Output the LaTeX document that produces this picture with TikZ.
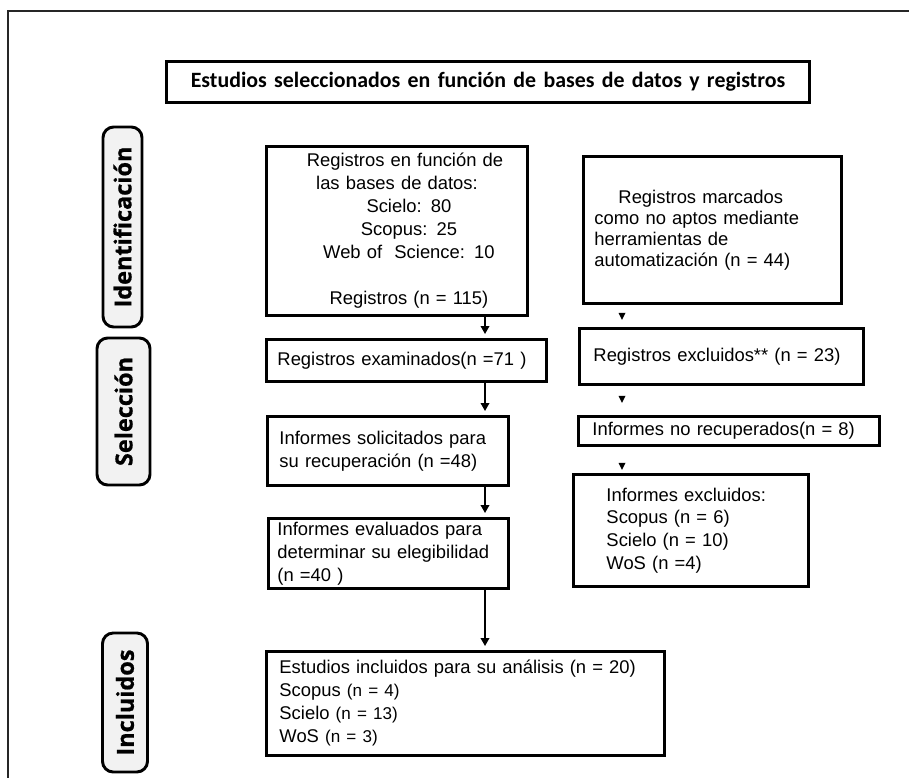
\documentclass[tikz,border=0pt]{standalone}
\usepackage{fontspec}
\setmainfont{Liberation Sans}
\newfontfamily\titulofont{Carlito}
\newfontfamily\etiquetafont{Open Sans}[BoldFeatures={FakeBold=0.8}]
\usetikzlibrary{shapes, arrows.meta}
\definecolor{grisclaro}{HTML}{F2F2F2}

\begin{document}
\begin{tikzpicture}[x=0.75pt, y=-0.75pt, semithick,
        font=\fontsize{13.8pt}{17.25pt}\selectfont,
        flecha/.style={-{Triangle[width=6.5pt,length=6pt]}, line width=1.1pt, shorten >=3pt}]
        \tikzstyle{caja}=[draw=black, line width=2.2pt, anchor=north west, align=left, inner ysep=0pt, text=black]
        \tikzstyle{fase}=[draw=black, line width=2.2pt, fill=grisclaro, rounded corners=8pt, rotate=90, inner sep=0pt, font=\etiquetafont\bfseries\fontsize{17.6pt}{20pt}\selectfont]
        \useasboundingbox (0,0) rectangle (909,778);
        % marco
        \draw[line width=1.5pt, black!85] (909,11) -- (8,11) -- (8,778);
        % titulo
        \node[caja, align=center, inner xsep=7.5pt, text width=467.25pt, minimum height=30.75pt, font=\titulofont\bfseries\fontsize{16.4pt}{18pt}\selectfont] (titulo) at (165,60) {Estudios seleccionados en función de bases de datos y registros};
        % fases
        \node[fase, minimum width=150pt, minimum height=29.25pt] (ident) at (122.5,227) {Identificación};
        \node[fase, minimum width=110.25pt, minimum height=39.75pt] (selec) at (123.5,411.5) {Selección};
        \node[fase, minimum width=104.25pt, minimum height=33.75pt] (incl) at (125,702.5) {Incluidos};
        % columna izquierda
        \node[caja, align=center, inner xsep=7.5pt, text width=180.75pt, minimum height=126.75pt] (registros) at (265,145)
            {\hspace*{12pt}Registros en función de\\ las bases de datos:\\ \hspace*{18pt}Scielo: 80\\ \hspace*{18pt}Scopus: 25\\ \hspace*{18pt}Web of~~Science: 10\\[17.25pt] \hspace*{18pt}Registros (n = 115)};
        \node[caja, inner xsep=8.25pt, text width=193.5pt, minimum height=31.5pt] (examinados) at (265,338) {Registros examinados(n =71 )};
        \node[caja, inner xsep=9pt, text width=162.75pt, minimum height=51.75pt] (solicitados) at (266,415)
            {Informes solicitados para\\ su recuperación (n =48)};
        \node[caja, inner xsep=6.75pt, text width=166.5pt, minimum height=52.5pt] (evaluados) at (267,517)
            {Informes evaluados para\\ determinar su elegibilidad\\ (n =40 )};
        \node[caja, inner xsep=9.75pt, text width=279pt, minimum height=78pt] (incluidos) at (265,650)
            {Estudios incluidos para su análisis (n = 20)\\
             Scopus {\fontsize{12.8pt}{17.25pt}\selectfont(n = 4)}\\
             Scielo {\fontsize{12.8pt}{17.25pt}\selectfont(n = 13)}\\
             WoS {\fontsize{12.8pt}{17.25pt}\selectfont(n = 3)}};
        % columna derecha
        \node[caja, inner xsep=8.25pt, text width=177pt, minimum height=110.25pt, font=\fontsize{13.8pt}{15.75pt}\selectfont] (marcados) at (582,155)
            {\hspace*{18pt}Registros marcados\\ como no aptos mediante\\ herramientas de\\ automatización (n = 44)};
        \node[caja, inner xsep=10.5pt, text width=192pt, minimum height=42pt] (excluidos) at (578,327) {Registros excluidos** (n = 23)};
        \node[caja, inner xsep=10.5pt, text width=204.75pt, minimum height=21.75pt] (norecup) at (577,415) {Informes no recuperados(n = 8)};
        \node[caja, inner xsep=24.75pt, text width=126.75pt, minimum height=84pt, font=\fontsize{13.8pt}{16.9pt}\selectfont] (infexcl) at (572,473)
            {Informes excluidos:\\ Scopus (n = 6)\\ Scielo (n = 10)\\ WoS (n =4)};
        % flechas
        \coordinate (eje) at (485,0);
        \coordinate (ejeder) at (622,0);
        \path (registros.south -| eje) edge[flecha] (examinados.north -| eje)
              (examinados.south -| eje) edge[flecha] (solicitados.north -| eje)
              (solicitados.south -| eje) edge[flecha] (evaluados.north -| eje)
              (evaluados.south -| eje) edge[flecha] (incluidos.north -| eje);
        \fill (marcados.south -| ejeder) ++(-3.5,8) -- ++(7,0) -- ++(-3.5,7) -- cycle;
        \fill (excluidos.south -| ejeder) ++(-3.5,10) -- ++(7,0) -- ++(-3.5,7) -- cycle;
        \fill (norecup.south -| ejeder) ++(-3.5,16) -- ++(7,0) -- ++(-3.5,7) -- cycle;
\end{tikzpicture}
\end{document}
